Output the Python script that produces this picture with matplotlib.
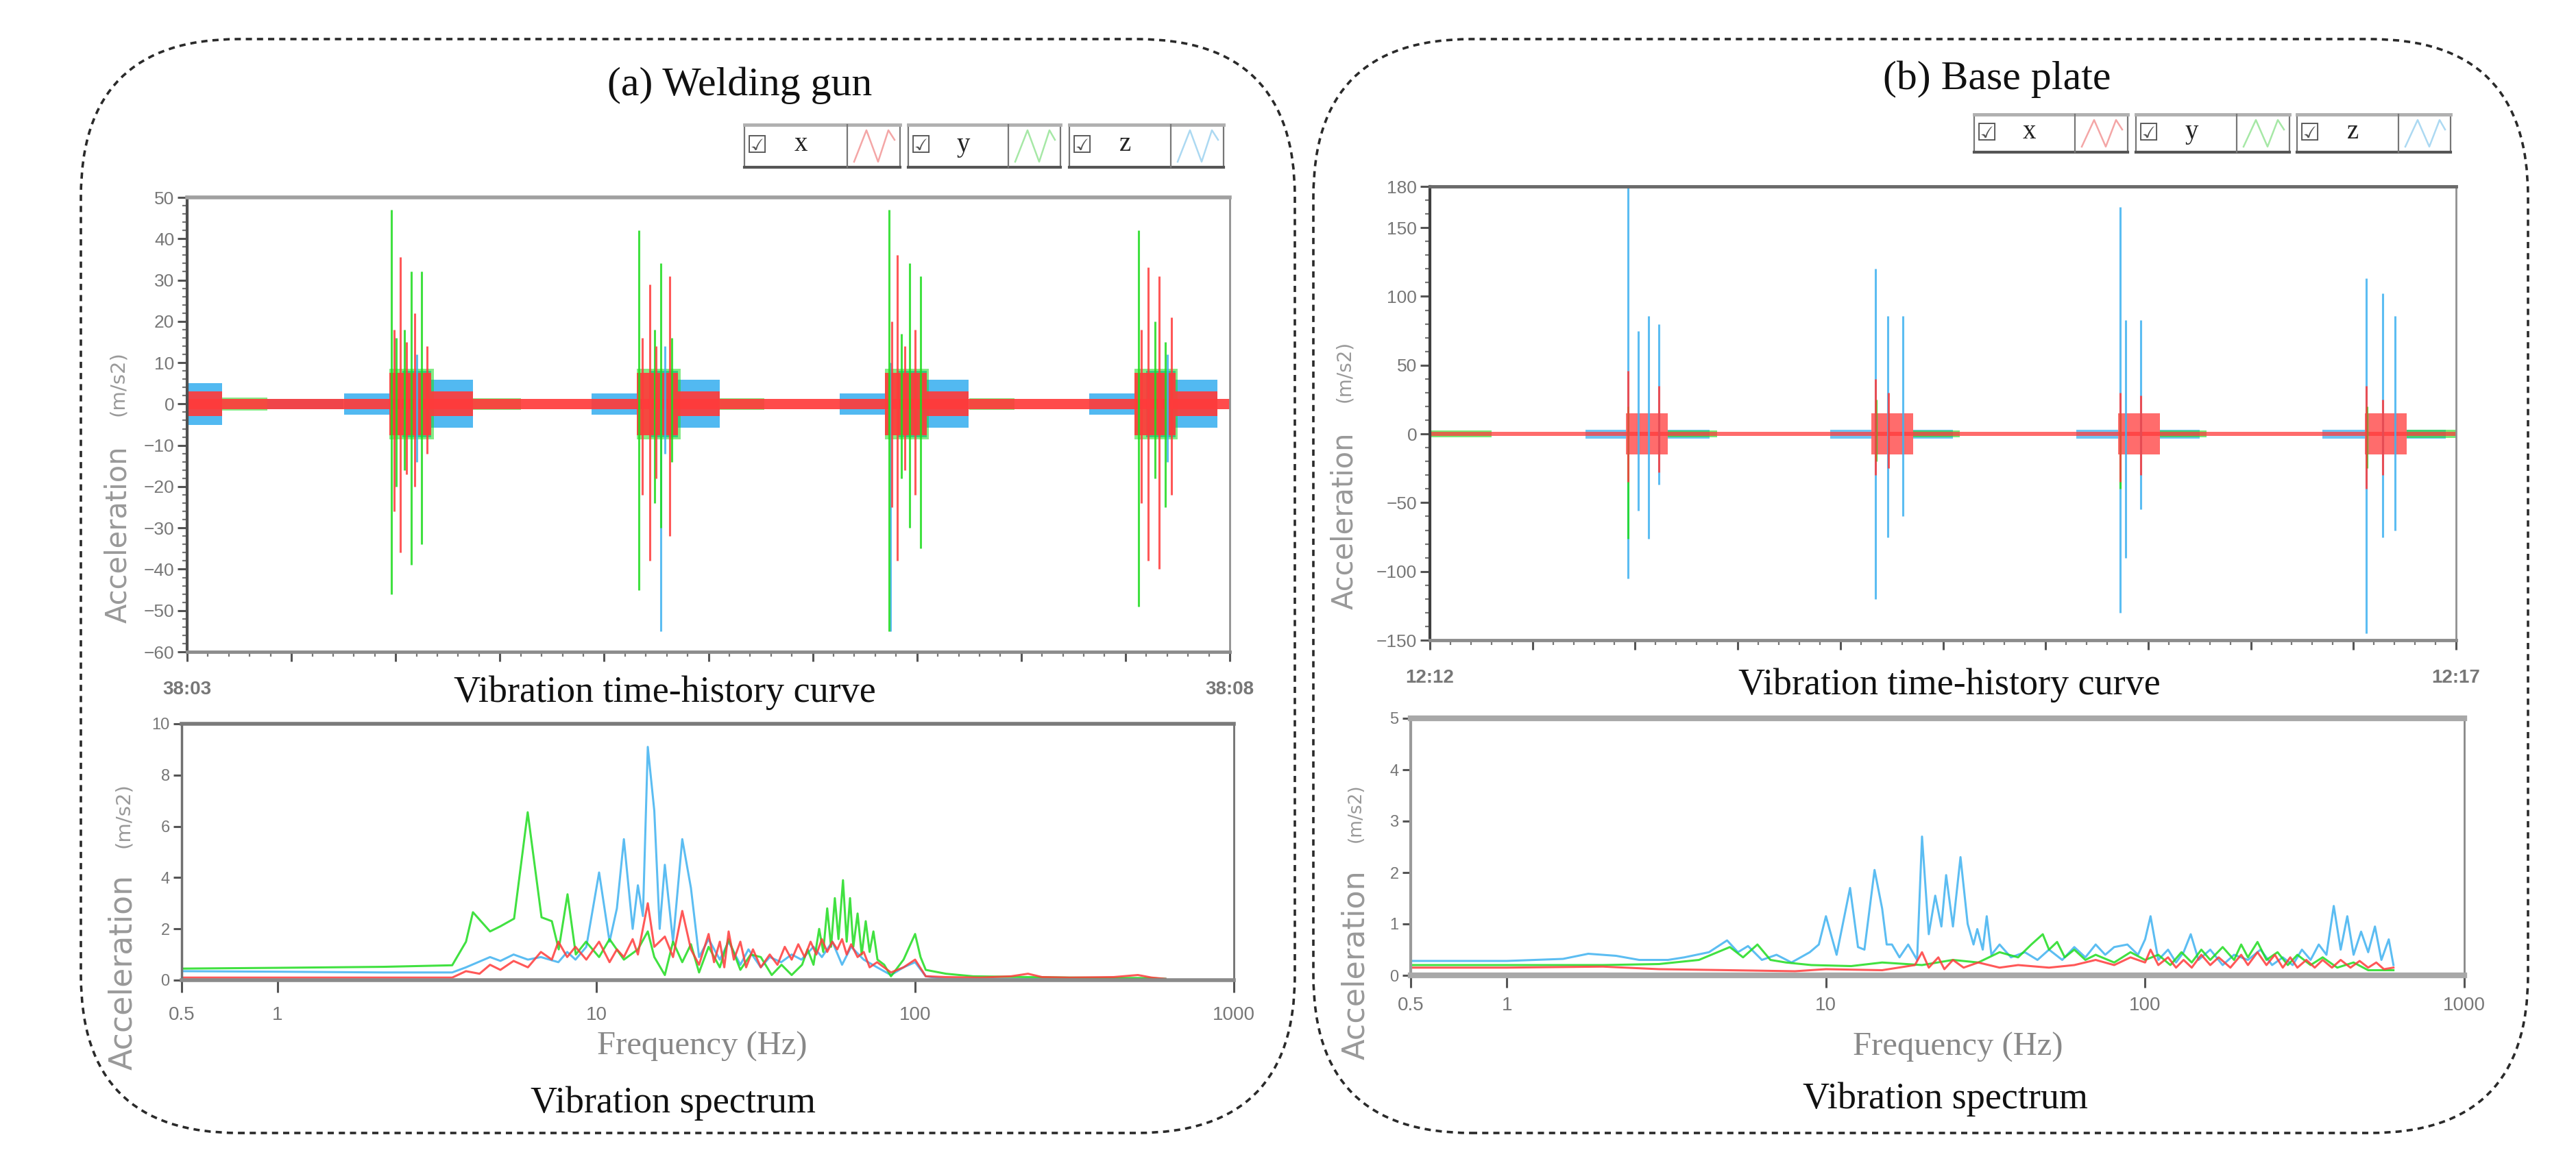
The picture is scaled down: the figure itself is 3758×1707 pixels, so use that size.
import matplotlib
matplotlib.use("Agg")
import matplotlib.pyplot as plt
from matplotlib.patches import FancyBboxPatch, Rectangle
from matplotlib.lines import Line2D
from matplotlib.ticker import FixedLocator, MultipleLocator, NullLocator

W, H, DPI = 3758, 1707, 100

# ---------------- data ----------------
channels = ["x", "y", "z"]
ch_color = {"x": "#ff3b3b", "y": "#1fdc1f", "z": "#3fb2f0"}
ch_pale = {"x": "#f4a6a6", "y": "#a6e8a6", "z": "#acd9f2"}

time_labels_wg = ["38:03", "38:08"]
time_labels_bp = ["12:12", "12:17"]
freq_ticks = [0.5, 1, 10, 100, 1000]
freq_labels = ["0.5", "1", "10", "100", "1000"]

# time history, seconds within the 5 min window: bands (t0, t1, half amplitude), spikes (t, top, bottom)
wg_band_x = [(0, 300, 1.3), (0, 10, 3.0),
             (58.2, 70.2, 7.5), (70.2, 82.2, 3.0), (129.3, 141.3, 7.5), (141.3, 153.3, 3.0),
             (200.8, 212.8, 7.5), (212.8, 224.8, 3.0), (272.5, 284.5, 7.5), (284.5, 296.5, 3.0)]
wg_band_y = [(10, 23, 1.6), (82, 96, 1.4), (153, 166, 1.4), (225, 238, 1.4),
             (58.2, 71, 8.5), (129.3, 142, 8.5), (200.8, 213.5, 8.5), (272.5, 285, 8.5)]
wg_band_z = [(0, 10, 5.0), (23, 45, 1.2), (45.2, 58.2, 2.6), (70.2, 82.2, 5.8),
             (116.3, 129.3, 2.6), (141.3, 153.3, 5.8), (187.8, 200.8, 2.6), (212.8, 224.8, 5.8),
             (259.5, 272.5, 2.6), (284.5, 296.5, 5.8), (62, 70.2, 8), (133, 141.3, 8),
             (204.5, 212.8, 8), (276, 284.5, 8)]
wg_spike_x = [(61.4, 35.5, -36), (59.5, 18, -26), (65.5, 22, -20), (69, 14, -12), (63.2, 15, -17),
              (133.1, 29, -38), (131.0, 16, -22), (138.8, 31, -32), (135.0, 14, -18),
              (204.3, 36, -38), (202.8, 20, -25), (209.5, 18, -22), (206.5, 14, -16),
              (276.6, 33, -38), (279.7, 31, -40), (283.2, 21, -22), (274.5, 18, -24)]
wg_spike_y = [(58.7, 47, -46), (64.4, 32, -39), (67.4, 32, -34), (62.5, 18, -16), (60.2, 16, -20),
              (130.0, 42, -45), (136.2, 34, -30), (134.5, 18, -24), (139.5, 16, -14),
              (202.0, 47, -55), (207.9, 34, -30), (211.0, 31, -35), (205.5, 17, -18),
              (273.8, 42, -49), (278.5, 20, -18), (281.5, 15, -25)]
wg_spike_z = [(66.0, 12, -14), (136.2, 8, -55), (202.3, 10, -55), (137.5, 14, -12), (282.0, 12, -14)]

bp_band_x = [(0, 300, 1.6), (57.4, 69.6, 15), (129.0, 141.2, 15), (201.3, 213.5, 15), (273.3, 285.5, 15)]
bp_band_y = [(0, 18, 2.6), (69.6, 84, 2.4), (141.2, 155, 2.4), (213.5, 227, 2.4), (285.5, 300, 3.0)]
bp_band_z = [(45.5, 57.4, 3.2), (69.6, 81.7, 3.2), (117, 129, 3.2), (141.2, 153, 3.2),
             (189, 201.3, 3.2), (213.5, 225, 3.2), (261, 273.3, 3.2), (285.5, 297, 3.2)]
bp_spike_x = [(57.9, 46, -35), (67.0, 35, -28), (130.3, 40, -30), (134.0, 30, -25),
              (201.8, 30, -35), (207.8, 28, -30), (273.8, 35, -40), (278.6, 25, -30)]
bp_spike_y = [(57.9, 20, -76), (130.5, 25, -20), (201.8, 15, -40), (274.0, 20, -25)]
bp_spike_z = [(57.9, 183, -105), (61.0, 75, -56), (64.0, 86, -76), (67.0, 80, -37),
              (130.3, 120, -120), (133.9, 86, -75), (138.2, 86, -60),
              (201.8, 165, -130), (203.5, 83, -90), (207.8, 83, -55),
              (273.8, 113, -145), (278.6, 102, -75), (282.2, 86, -70)]

# spectra: (frequency Hz, acceleration m/s2)
wg_spec_x = [(0.5, 0.1), (1, 0.1), (2.15, 0.1), (3.53, 0.1), (3.9, 0.35), (4.3, 0.25), (4.64, 0.6),
             (5.0, 0.4), (5.5, 0.75), (6.1, 0.5), (6.7, 1.1), (7.25, 0.8), (7.6, 1.5), (8.1, 0.9),
             (8.6, 1.3), (9.3, 0.8), (10.2, 1.5), (11.0, 0.7), (11.6, 1.2), (12.2, 0.9), (13.0, 1.6),
             (13.5, 1.0), (14.5, 3.0), (15.2, 1.3), (16.4, 1.7), (17.4, 0.9), (18.6, 2.7), (19.8, 1.2),
             (21.0, 0.6), (22.5, 1.8), (23.4, 0.7), (24.4, 1.5), (25.2, 0.5), (26, 1.9), (27, 0.8),
             (28.3, 1.5), (29.5, 0.5), (31, 1.2), (32.8, 0.5), (35, 1.0), (37, 0.6), (39, 1.3),
             (41, 0.8), (43, 1.4), (45, 0.9), (47, 1.5), (49, 1.0), (51, 1.6), (53, 1.1), (55, 1.5),
             (57, 1.2), (59, 1.6), (61, 1.0), (63, 1.4), (66, 0.9), (69, 1.1), (72, 0.5), (76, 0.7),
             (84, 0.3), (92, 0.5), (100, 0.8), (108, 0.15), (125, 0.12), (160, 0.1), (200, 0.15),
             (226, 0.25), (250, 0.12), (305, 0.1), (420, 0.12), (500, 0.2), (552, 0.1), (610, 0.05)]
wg_spec_y = [(0.5, 0.45), (1, 0.48), (2.15, 0.52), (3.53, 0.58), (3.9, 1.5), (4.1, 2.65), (4.64, 1.9),
             (5.0, 2.1), (5.52, 2.4), (6.09, 6.55), (6.73, 2.45), (7.25, 2.3), (7.62, 1.2), (8.12, 3.35),
             (8.62, 1.0), (9.28, 1.5), (10.2, 0.9), (11.0, 1.6), (12.2, 0.8), (13.5, 1.2), (14.5, 1.9),
             (15.2, 0.9), (16.4, 0.2), (17.4, 1.5), (18.6, 0.7), (19.8, 1.4), (21.0, 0.3), (22.5, 1.3),
             (24.4, 0.5), (26, 1.6), (28.3, 0.4), (30.5, 1.0), (32.8, 0.9), (35.5, 0.2), (38.1, 0.6),
             (41, 0.2), (44.2, 0.6), (46, 1.2), (48, 0.6), (50, 2.0), (51.5, 1.1), (53, 2.8), (54.5, 1.3),
             (56, 3.2), (57.5, 1.6), (59.4, 3.9), (61, 1.5), (62.5, 3.2), (64, 1.3), (66, 2.6), (68, 1.0),
             (70, 2.3), (72, 1.1), (74, 1.9), (76.2, 0.8), (80, 0.6), (84, 0.15), (92, 0.8), (100, 1.8),
             (104, 0.9), (108, 0.4), (125, 0.25), (152, 0.15), (226, 0.12), (305, 0.1), (552, 0.08),
             (610, 0.05)]
wg_spec_z = [(0.5, 0.35), (1, 0.33), (2.15, 0.3), (3.53, 0.3), (3.9, 0.5), (4.64, 0.9), (5.0, 0.75),
             (5.5, 1.0), (6.1, 0.8), (6.7, 0.9), (7.6, 0.7), (8.1, 1.1), (8.6, 0.8), (9.3, 1.3),
             (10.2, 4.2), (11.0, 1.5), (11.6, 2.8), (12.2, 5.5), (13.0, 2.0), (13.5, 3.7), (14.0, 2.5),
             (14.5, 9.1), (15.2, 6.6), (15.8, 2.0), (16.4, 4.5), (17.4, 1.5), (18.6, 5.5), (19.8, 3.6),
             (21.0, 0.9), (22.5, 1.6), (24.4, 0.8), (26, 1.5), (28.3, 0.6), (30, 1.2), (32.8, 0.5),
             (35, 0.9), (38, 0.7), (41, 1.0), (44, 0.8), (48, 1.3), (51, 0.9), (55, 1.5), (59, 0.6),
             (63, 1.3), (69, 0.8), (76, 0.5), (84, 0.2), (92, 0.5), (100, 0.7), (108, 0.15), (125, 0.05),
             (200, 0.05), (610, 0.05)]

bp_spec_x = [(0.5, 0.15), (1.0, 0.15), (2.0, 0.17), (3.0, 0.12), (5, 0.1), (8, 0.08), (10, 0.12),
             (15, 0.1), (19, 0.2), (20, 0.45), (21, 0.15), (22.5, 0.35), (23.5, 0.12), (25, 0.3),
             (27, 0.15), (30, 0.25), (35, 0.15), (40, 0.2), (50, 0.15), (60, 0.2), (70, 0.3), (80, 0.2),
             (90, 0.35), (100, 0.25), (104, 0.5), (110, 0.2), (118, 0.35), (125, 0.15), (132, 0.3),
             (140, 0.15), (150, 0.4), (160, 0.2), (170, 0.35), (185, 0.15), (200, 0.4), (210, 0.2),
             (225, 0.45), (240, 0.2), (255, 0.4), (270, 0.15), (285, 0.35), (300, 0.15), (320, 0.3),
             (340, 0.15), (360, 0.3), (385, 0.15), (410, 0.3), (440, 0.15), (470, 0.28), (500, 0.15),
             (530, 0.25), (560, 0.12), (600, 0.15)]
bp_spec_y = [(0.5, 0.2), (1.0, 0.2), (2.0, 0.2), (3.0, 0.22), (4.0, 0.3), (5.0, 0.55), (5.5, 0.35),
             (6.1, 0.6), (6.7, 0.3), (7.5, 0.25), (9.0, 0.2), (12, 0.18), (15, 0.25), (20, 0.2),
             (25, 0.3), (30, 0.25), (35, 0.45), (40, 0.35), (44, 0.6), (47.8, 0.8), (50, 0.5), (53, 0.65),
             (56, 0.35), (60, 0.5), (65, 0.3), (70, 0.4), (80, 0.25), (90, 0.45), (100, 0.3), (110, 0.4),
             (120, 0.2), (130, 0.45), (140, 0.25), (150, 0.5), (160, 0.3), (175, 0.55), (190, 0.3),
             (200, 0.6), (210, 0.35), (225, 0.65), (240, 0.3), (260, 0.45), (280, 0.2), (300, 0.4),
             (330, 0.2), (360, 0.35), (400, 0.15), (450, 0.25), (500, 0.1), (600, 0.1)]
bp_spec_z = [(0.5, 0.28), (1.0, 0.28), (1.5, 0.32), (1.8, 0.42), (2.2, 0.38), (2.6, 0.3), (3.2, 0.3),
             (3.6, 0.35), (4.3, 0.45), (4.9, 0.68), (5.3, 0.45), (5.7, 0.57), (6.3, 0.3), (7.0, 0.4),
             (7.8, 0.25), (8.9, 0.45), (9.5, 0.6), (10.0, 1.15), (10.8, 0.4), (11.9, 1.7), (12.6, 0.55),
             (13.2, 0.5), (14.2, 2.05), (15.0, 1.3), (15.5, 0.6), (16.1, 0.6), (17, 0.35), (18.1, 0.6),
             (19.3, 0.3), (20.0, 2.7), (21, 0.8), (22, 1.55), (23, 0.95), (23.8, 1.95), (25, 0.95),
             (26.4, 2.3), (27.8, 1.0), (29.0, 0.6), (29.8, 0.9), (31.0, 0.5), (31.9, 1.15), (33, 0.4),
             (35, 0.6), (38, 0.35), (42, 0.45), (46, 0.3), (50, 0.5), (55, 0.3), (60, 0.55), (65, 0.35),
             (70, 0.6), (75, 0.4), (80, 0.55), (88, 0.6), (95, 0.4), (100, 0.7), (104, 1.15), (110, 0.3),
             (118, 0.5), (125, 0.25), (132, 0.45), (139, 0.8), (147, 0.3), (160, 0.5), (175, 0.2),
             (190, 0.4), (210, 0.3), (230, 0.5), (250, 0.2), (270, 0.35), (290, 0.2), (310, 0.5),
             (330, 0.3), (350, 0.6), (370, 0.4), (390, 1.35), (410, 0.5), (430, 1.15), (450, 0.4),
             (475, 0.85), (500, 0.45), (525, 0.95), (550, 0.3), (580, 0.7), (600, 0.2)]

# ---------------- figure ----------------
SERIF = ["Liberation Serif", "DejaVu Serif"]
SANS = ["Liberation Sans", "DejaVu Sans"]
fig = plt.figure(figsize=(W / DPI, H / DPI), dpi=DPI)
fig.patch.set_facecolor("white")


def rect(x0, y0, x1, y1):
    # pixel box, top-left origin -> figure fraction
    return [x0 / W, 1 - y1 / H, (x1 - x0) / W, (y1 - y0) / H]


def ftext(x, y, s, **kw):
    fig.text(x / W, 1 - y / H, s, ha="center", va="center", **kw)


def inch(x, y):
    return x / DPI, (H - y) / DPI


# dashed rounded frames
for x0, y0, x1, y1 in [(118, 57, 1889, 1653), (1916, 57, 3688, 1653)]:
    px, py = inch(x0, y1)
    fig.add_artist(FancyBboxPatch((px, py), (x1 - x0) / DPI, (y1 - y0) / DPI,
                                  boxstyle="round,pad=0,rounding_size=2.3",
                                  transform=fig.dpi_scale_trans, fill=False,
                                  ec="#2a2a2a", lw=2.6, ls=(0, (2.5, 2.0))))


def legend(boxes, y0, y1):
    T = fig.dpi_scale_trans
    for (bx0, bdiv, bx1), ch in zip(boxes, channels):
        x, y = inch(bx0, y1)
        fig.add_artist(Rectangle((x, y), (bx1 - bx0) / DPI, (y1 - y0) / DPI, transform=T,
                                 fc="white", ec="#777777", lw=1.6))
        for yy, c, w in [(y0, "#b0b0b0", 3.5), (y1, "#555555", 3.0)]:
            fig.add_artist(Line2D([bx0 / DPI, bx1 / DPI], [(H - yy) / DPI] * 2, transform=T, color=c, lw=w))
        fig.add_artist(Line2D([bdiv / DPI] * 2, [(H - y0) / DPI, (H - y1) / DPI], transform=T,
                              color="#777777", lw=1.6))
        ym = (y0 + y1) / 2
        ftext(bx0 + 18, ym, "\u2611", fontsize=25, color="#555555", family=["DejaVu Sans"])
        ftext(bx0 + 0.55 * (bdiv - bx0), ym - 2, ch, fontsize=28, color="#222222", family=SERIF)
        xs = [bdiv + 10, bdiv + 28, bdiv + 45, bdiv + 60, bx1 - 8]
        ys = [y1 - 8, y0 + 8, y1 - 8, y0 + 8, y0 + 22]
        fig.add_artist(Line2D([v / DPI for v in xs], [(H - v) / DPI for v in ys], transform=T,
                              color=ch_pale[ch], lw=1.8))


legend([(1086, 1236, 1313), (1325, 1471, 1547), (1560, 1708, 1785)], 182, 244)
legend([(2880, 3027, 3104), (3116, 3263, 3340), (3351, 3499, 3575)], 167, 222)


def style_time_axis(ax, ylim, ymajor, yminor, labels):
    ax.set_xlim(0, 300)
    ax.set_ylim(*ylim)
    ax.xaxis.set_major_locator(FixedLocator(list(range(0, 301, 30))))
    ax.xaxis.set_minor_locator(MultipleLocator(6))
    ax.set_xticklabels([labels[0]] + [""] * 9 + [labels[1]])
    ax.yaxis.set_major_locator(FixedLocator(ymajor))
    ax.yaxis.set_minor_locator(MultipleLocator(yminor))
    ax.tick_params(axis="both", which="major", length=10, width=2.2, color="#555555",
                   labelcolor="#777777", labelsize=19)
    ax.tick_params(axis="both", which="minor", length=5, width=1.6, color="#777777")
    ax.tick_params(axis="x", which="major", pad=20, labelsize=20)
    for lab in ax.get_xticklabels():
        lab.set_fontweight("bold")
        lab.set_family(SANS)
    for lab in ax.get_yticklabels():
        lab.set_family(SANS)
    ax.spines["top"].set(color="#a0a0a0", lw=4)
    ax.spines["left"].set(color="#505050", lw=3)
    ax.spines["right"].set(color="#909090", lw=2)
    ax.spines["bottom"].set(color="#8c8c8c", lw=3.5)


def draw_time(ax, bands, spikes, band_alpha):
    for ch in ["z", "y", "x"]:
        for t0, t1, a in bands[ch]:
            ax.fill_between([t0, t1], [-a, -a], [a, a], color=ch_color[ch], alpha=band_alpha[ch], lw=0)
    for ch in ["z", "y", "x"]:
        t, hi, lo = zip(*spikes[ch])
        ax.vlines(t, lo, hi, colors=ch_color[ch], lw=2.2, alpha=0.85)


def style_spec_axis(ax, ymax, ystep, pad):
    ax.set_xscale("log")
    ax.set_xlim(0.5, 1000)
    ax.set_ylim(0, ymax)
    ax.xaxis.set_major_locator(FixedLocator(freq_ticks))
    ax.xaxis.set_minor_locator(NullLocator())
    ax.set_xticklabels(freq_labels)
    ax.yaxis.set_major_locator(MultipleLocator(ystep))
    ax.tick_params(axis="y", length=9, width=2.2, color="#555555", labelcolor="#777777", labelsize=17)
    ax.tick_params(axis="x", length=13, width=2.2, color="#555555", labelcolor="#777777",
                   labelsize=20, pad=pad)
    for lab in ax.get_xticklabels() + ax.get_yticklabels():
        lab.set_family(SANS)


def draw_spec(ax, series):
    for ch in ["z", "y", "x"]:
        f, v = zip(*series[ch])
        ax.plot(f, v, color=ch_color[ch], lw=2.2, alpha=0.85)


# ---- (a) welding gun ----
ax1 = fig.add_axes(rect(273, 288, 1794, 951))
draw_time(ax1, {"x": wg_band_x, "y": wg_band_y, "z": wg_band_z},
          {"x": wg_spike_x, "y": wg_spike_y, "z": wg_spike_z},
          {"x": 0.92, "y": 0.55, "z": 0.9})
style_time_axis(ax1, (-60, 50), list(range(-60, 51, 10)), 2, time_labels_wg)

ax2 = fig.add_axes(rect(265, 1056, 1800, 1430))
draw_spec(ax2, {"x": wg_spec_x, "y": wg_spec_y, "z": wg_spec_z})
style_spec_axis(ax2, 10, 2, 14)
ax2.spines["top"].set(color="#7a7a7a", lw=4)
ax2.spines["bottom"].set(color="#8a8a8a", lw=4)
ax2.spines["left"].set(color="#707070", lw=2.5)
ax2.spines["right"].set(color="#707070", lw=2)

# ---- (b) base plate ----
ax3 = fig.add_axes(rect(2086, 272, 3583, 934))
draw_time(ax3, {"x": bp_band_x, "y": bp_band_y, "z": bp_band_z},
          {"x": bp_spike_x, "y": bp_spike_y, "z": bp_spike_z},
          {"x": 0.75, "y": 0.6, "z": 0.75})
style_time_axis(ax3, (-150, 180), [-150, -100, -50, 0, 50, 100, 150, 180], 10, time_labels_bp)
ax3.spines["top"].set(color="#6a6a6a", lw=3.5)
ax3.spines["left"].set(color="#404040", lw=3)

ax4 = fig.add_axes(rect(2058, 1048, 3595, 1423))
draw_spec(ax4, {"x": bp_spec_x, "y": bp_spec_y, "z": bp_spec_z})
style_spec_axis(ax4, 5, 1, 9)
ax4.spines["top"].set(color="#a8a8a8", lw=6)
ax4.spines["bottom"].set(color="#a8a8a8", lw=6)
ax4.spines["left"].set(color="#9a9a9a", lw=3)
ax4.spines["right"].set(color="#888888", lw=2)

# ---- texts ----
ftext(1079, 125, "(a) Welding gun", fontsize=43, color="#111111", family=SERIF)
ftext(2913, 116, "(b) Base plate", fontsize=43, color="#111111", family=SERIF)
ftext(970, 1011, "Vibration time-history curve", fontsize=39, color="#111111", family=SERIF)
ftext(2844, 1000, "Vibration time-history curve", fontsize=39, color="#111111", family=SERIF)
ftext(1024, 1527, "Frequency (Hz)", fontsize=35, color="#888888", family=SERIF)
ftext(2856, 1528, "Frequency (Hz)", fontsize=35, color="#888888", family=SERIF)
ftext(982, 1610, "Vibration spectrum", fontsize=39, color="#111111", family=SERIF)
ftext(2838, 1604, "Vibration spectrum", fontsize=39, color="#111111", family=SERIF)

# y labels: (x, y of "Acceleration", size, y of "(m/s2)", size)
for x, ya, sa, yu, su in [(172, 780, 30, 560, 21), (180, 1418, 33, 1190, 21),
                          (1961, 760, 30, 542, 20), (1978, 1408, 32, 1186, 19)]:
    ftext(x, ya, "Acceleration", fontsize=sa, color="#999999", rotation=90, family=["DejaVu Sans"])
    ftext(x, yu, "(m/s2)", fontsize=su, color="#999999", rotation=90, family=["DejaVu Sans"])

fig.savefig("out.png", dpi=DPI, facecolor="white")
